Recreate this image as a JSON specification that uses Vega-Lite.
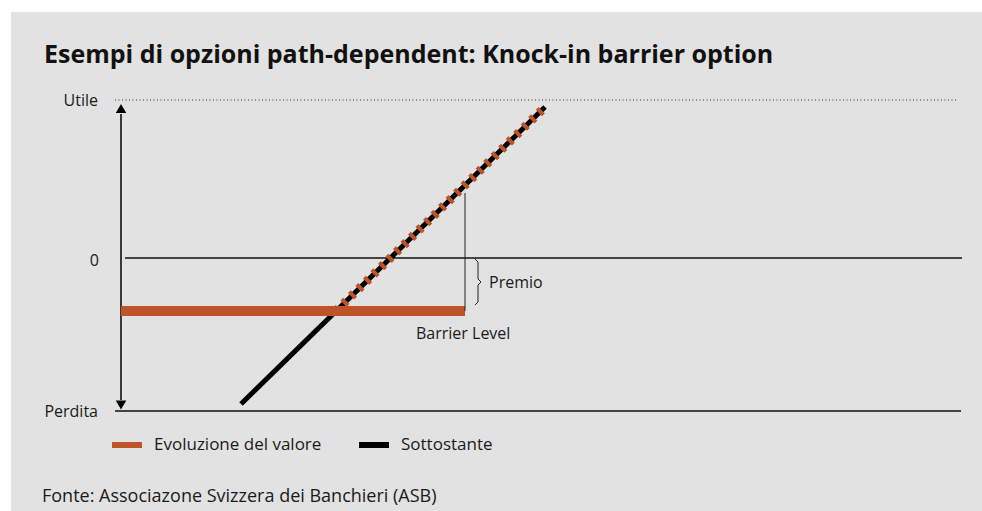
{
  "$schema": "https://vega.github.io/schema/vega-lite/v6.json",
  "width": 971,
  "height": 499,
  "autosize": {"type": "none"},
  "padding": {"left": 11, "top": 12, "right": 0, "bottom": 0},
  "background": "#ffffff",
  "config": {
    "view": {"fill": "#e2e2e2", "stroke": null},
    "font": "Open Sans",
    "text": {"font": "Open Sans", "color": "#1a1a1a"}
  },
  "datasets": {
    "refLines": [
      {"name": "utile", "x": -0.6, "x2": 83.7, "y": 15.8},
      {"name": "zero", "x": 0.4, "x2": 84.1, "y": 0},
      {"name": "perdita", "x": -0.6, "x2": 84.0, "y": -15.3}
    ],
    "series": [
      {"serie": "Evoluzione del valore", "part": "barrier", "x": 0, "y": -5.3},
      {"serie": "Evoluzione del valore", "part": "barrier", "x": 34.4, "y": -5.3},
      {"serie": "Sottostante", "part": "under", "x": 12.0, "y": -14.6},
      {"serie": "Sottostante", "part": "under", "x": 42.4, "y": 15.1},
      {"serie": "Evoluzione del valore", "part": "knockin", "x": 21.5, "y": -5.3},
      {"serie": "Evoluzione del valore", "part": "knockin", "x": 42.4, "y": 15.1}
    ],
    "brace": [
      {"i": 0, "x": 35.4, "y": -0.1},
      {"i": 1, "x": 35.7, "y": -0.4},
      {"i": 2, "x": 35.7, "y": -2.1},
      {"i": 3, "x": 36.0, "y": -2.4},
      {"i": 4, "x": 35.7, "y": -2.7},
      {"i": 5, "x": 35.7, "y": -4.4},
      {"i": 6, "x": 35.4, "y": -4.7}
    ],
    "axisLabels": [
      {"label": "Utile", "x": -2.3, "y": 15.2},
      {"label": "0", "x": -2.2, "y": -0.8},
      {"label": "Perdita", "x": -2.3, "y": -15.9}
    ],
    "notes": [
      {"label": "Premio", "x": 36.8, "y": -3.0},
      {"label": "Barrier Level", "x": 29.5, "y": -8.1}
    ]
  },
  "encoding": {
    "x": {"type": "quantitative", "scale": {"domain": [-11, 86.1], "nice": false, "zero": false}, "axis": null},
    "y": {"type": "quantitative", "scale": {"domain": [-25.3, 24.6], "nice": false, "zero": false}, "axis": null}
  },
  "layer": [
    {
      "data": {"name": "refLines"},
      "transform": [{"filter": "datum.name === 'utile'"}],
      "mark": {"type": "rule", "color": "#333333", "strokeWidth": 1, "strokeDash": [1, 2.5]},
      "encoding": {"x": {"field": "x"}, "x2": {"field": "x2"}, "y": {"field": "y"}}
    },
    {
      "data": {"name": "refLines"},
      "transform": [{"filter": "datum.name === 'zero'"}],
      "mark": {"type": "rule", "color": "#111111", "strokeWidth": 1.3},
      "encoding": {"x": {"field": "x"}, "x2": {"field": "x2"}, "y": {"field": "y"}}
    },
    {
      "data": {"name": "refLines"},
      "transform": [{"filter": "datum.name === 'perdita'"}],
      "mark": {"type": "rule", "color": "#444444", "strokeWidth": 2},
      "encoding": {"x": {"field": "x"}, "x2": {"field": "x2"}, "y": {"field": "y"}}
    },
    {
      "data": {"values": [{"x": 0, "y": 14.4, "y2": -14.2}]},
      "mark": {"type": "rule", "color": "#000000", "strokeWidth": 1.5},
      "encoding": {"x": {"field": "x"}, "y": {"field": "y"}, "y2": {"field": "y2"}}
    },
    {
      "data": {"values": [{"x": 0, "y": 14.95}]},
      "mark": {"type": "point", "shape": "triangle-up", "filled": true, "color": "#000000", "size": 110, "opacity": 1},
      "encoding": {"x": {"field": "x"}, "y": {"field": "y"}}
    },
    {
      "data": {"values": [{"x": 0, "y": -14.7}]},
      "mark": {"type": "point", "shape": "triangle-down", "filled": true, "color": "#000000", "size": 110, "opacity": 1},
      "encoding": {"x": {"field": "x"}, "y": {"field": "y"}}
    },
    {
      "data": {"name": "series"},
      "transform": [{"filter": "datum.part === 'under'"}],
      "mark": {"type": "line", "strokeWidth": 5, "strokeCap": "butt"},
      "encoding": {
        "x": {"field": "x"},
        "y": {"field": "y"},
        "color": {"field": "serie", "type": "nominal",
          "scale": {"domain": ["Evoluzione del valore", "Sottostante"], "range": ["#bf5429", "#000000"]},
          "legend": {
            "orient": "none", "direction": "horizontal", "title": null,
            "legendX": 98, "legendY": 415,
            "symbolType": "stroke", "symbolStrokeWidth": 6, "symbolSize": 900,
            "labelFontSize": 17, "labelFont": "Open Sans", "labelColor": "#1a1a1a", "labelLimit": 400,
            "labelOffset": 9, "columnPadding": 25, "padding": 0
          }
        }
      }
    },
    {
      "data": {"name": "series"},
      "transform": [{"filter": "datum.part === 'barrier'"}],
      "mark": {"type": "line", "strokeWidth": 10, "strokeCap": "butt"},
      "encoding": {"x": {"field": "x"}, "y": {"field": "y"}, "color": {"field": "serie", "type": "nominal"}}
    },
    {
      "data": {"name": "series"},
      "transform": [{"filter": "datum.part === 'knockin'"}],
      "mark": {"type": "line", "strokeWidth": 9, "strokeCap": "butt", "strokeDash": [4, 6.5]},
      "encoding": {"x": {"field": "x"}, "y": {"field": "y"}, "color": {"field": "serie", "type": "nominal"}}
    },
    {
      "data": {"values": [{"x": 34.4, "y": -5.3, "y2": 6.5}]},
      "mark": {"type": "rule", "color": "#222222", "strokeWidth": 1},
      "encoding": {"x": {"field": "x"}, "y": {"field": "y"}, "y2": {"field": "y2"}}
    },
    {
      "data": {"name": "brace"},
      "mark": {"type": "line", "color": "#222222", "strokeWidth": 1},
      "encoding": {"x": {"field": "x"}, "y": {"field": "y"}, "order": {"field": "i"}}
    },
    {
      "data": {"name": "axisLabels"},
      "mark": {"type": "text", "align": "right", "baseline": "alphabetic", "fontSize": 16},
      "encoding": {"x": {"field": "x"}, "y": {"field": "y"}, "text": {"field": "label"}}
    },
    {
      "data": {"name": "notes"},
      "mark": {"type": "text", "align": "left", "baseline": "alphabetic", "fontSize": 16},
      "encoding": {"x": {"field": "x"}, "y": {"field": "y"}, "text": {"field": "label"}}
    },
    {
      "data": {"values": [{"label": "Esempi di opzioni path-dependent: Knock-in barrier option", "x": -7.7, "y": 19.5}]},
      "mark": {"type": "text", "align": "left", "baseline": "alphabetic", "fontSize": 25, "fontWeight": "bold", "color": "#111111"},
      "encoding": {"x": {"field": "x"}, "y": {"field": "y"}, "text": {"field": "label"}}
    },
    {
      "data": {"values": [{"label": "Fonte: Associazone Svizzera dei Banchieri (ASB)", "x": -7.9, "y": -24.4}]},
      "mark": {"type": "text", "align": "left", "baseline": "alphabetic", "fontSize": 18},
      "encoding": {"x": {"field": "x"}, "y": {"field": "y"}, "text": {"field": "label"}}
    }
  ]
}
